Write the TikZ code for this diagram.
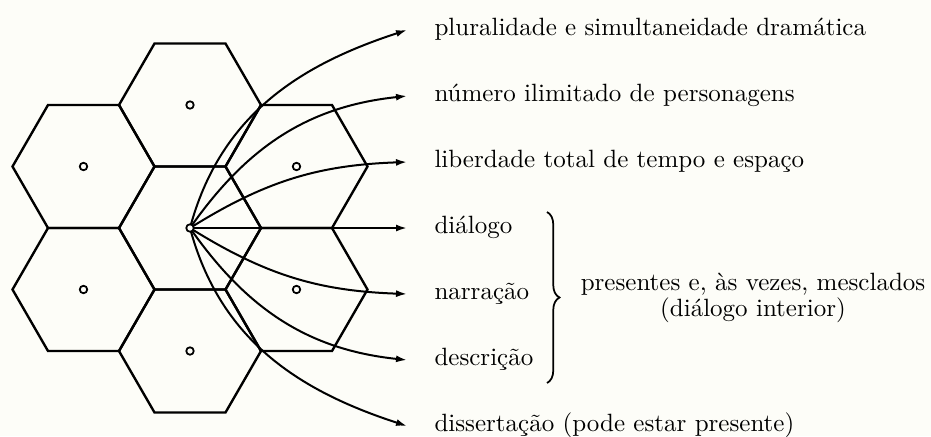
\documentclass[tikz,border=0pt]{standalone}
\usetikzlibrary{shapes.geometric}
\usetikzlibrary{arrows.meta}
\usetikzlibrary{decorations.pathreplacing}
\definecolor{paper}{RGB}{253,253,248}
\tikzstyle{cell}=[draw, regular polygon, regular polygon sides=6, minimum size=56.8pt, inner sep=0pt, outer sep=0pt, line width=0.95pt]
\tikzstyle{centre mark}=[draw, circle, minimum size=3pt, inner sep=0pt, line width=0.7pt, fill=paper]
\tikzstyle{ray}=[line width=0.8pt, -{Latex[length=4.4pt, width=2.8pt]}]
\tikzstyle{feature}=[anchor=west, inner xsep=10.8pt, inner ysep=0pt, text height=1ex, text depth=0pt]
\tikzstyle{grouping brace}=[decorate, decoration={brace, amplitude=5pt}, line width=0.7pt]

\begin{document}
\begin{tikzpicture}[x=0.4pt, y=0.4pt]
      \fill[paper] (0,0) rectangle (931,436);
      \useasboundingbox (0,0) rectangle (931,436);

      \node[cell] (hex_c) at (190, 208) {};
      \node[cell] (hex_n) at (190, 331) {};
      \node[cell] (hex_s) at (190, 85) {};
      \node[cell] (hex_nw) at (83.5, 269.5) {};
      \node[cell] (hex_sw) at (83.5, 146.5) {};
      \node[cell] (hex_ne) at (296.5, 269.5) {};
      \node[cell] (hex_se) at (296.5, 146.5) {};

      \node[centre mark] (mark_n) at (hex_n) {};
      \node[centre mark] (mark_s) at (hex_s) {};
      \node[centre mark] (mark_nw) at (hex_nw) {};
      \node[centre mark] (mark_sw) at (hex_sw) {};
      \node[centre mark] (mark_ne) at (hex_ne) {};
      \node[centre mark] (mark_se) at (hex_se) {};

      \node[feature] (f_plural) at (407, 406) {pluralidade e simultaneidade dramática};
      \node[feature] (f_numero) at (407, 340) {número ilimitado de personagens};
      \node[feature] (f_liberdade) at (407, 274) {liberdade total de tempo e espaço};
      \node[feature] (f_dialogo) at (407, 208) {diálogo};
      \node[feature] (f_narracao) at (407, 142) {narração};
      \node[feature] (f_descricao) at (407, 76) {descrição};
      \node[feature] (f_dissertacao) at (407, 10) {dissertação (pode estar presente)};

      \draw[ray] (hex_c.center) to[out=75, in=198] (f_plural.west);
      \draw[ray] (hex_c.center) to[out=55, in=186] (f_numero.west);
      \draw[ray] (hex_c.center) to[out=32, in=182] (f_liberdade.west);
      \draw[ray] (hex_c.center) to (f_dialogo.west);
      \draw[ray] (hex_c.center) to[out=-32, in=178] (f_narracao.west);
      \draw[ray] (hex_c.center) to[out=-55, in=174] (f_descricao.west);
      \draw[ray] (hex_c.center) to[out=-75, in=162] (f_dissertacao.west);
      \node[centre mark] (origin) at (hex_c) {};

      \coordinate (brace_top) at (547, 224);
      \coordinate (brace_bot) at (547, 53);
      \draw[grouping brace] (brace_top) -- (brace_bot);
      \node[align=center, font=\fontsize{10}{9.4}\selectfont] (mixed) at (753, 138)
        {presentes e, às vezes, mesclados\\(diálogo interior)};
    \end{tikzpicture}
\end{document}
